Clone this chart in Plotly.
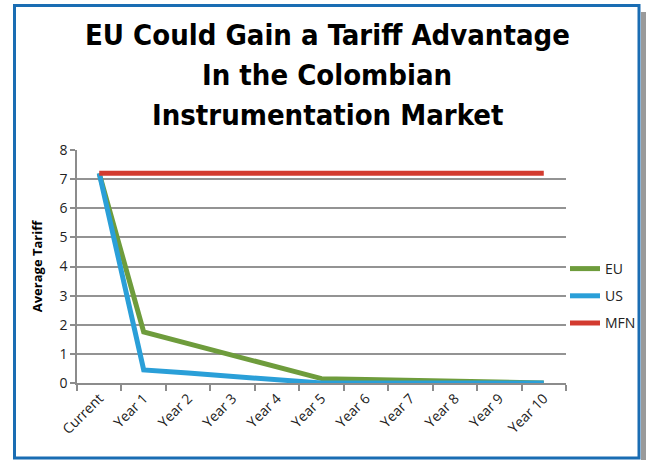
import plotly.graph_objects as go

categories = ["Current", "Year 1", "Year 2", "Year 3", "Year 4", "Year 5",
              "Year 6", "Year 7", "Year 8", "Year 9", "Year 10"]
eu = [7.2, 1.75, 1.35, 0.95, 0.55, 0.15, 0.12, 0.09, 0.06, 0.03, 0.0]
us = [7.2, 0.45, 0.34, 0.23, 0.11, 0.0, 0.0, 0.0, 0.0, 0.0, 0.0]
mfn = [7.2] * 11
y_ticks = [0, 1, 2, 3, 4, 5, 6, 7, 8]
title_lines = ["EU Could Gain a Tariff Advantage", "In the Colombian", "Instrumentation Market"]

W, H = 646, 460
L, R, T, B = 77, 566, 150, 383


def px(x):
    return (x - L) / (R - L)


def py(y):
    return (B - y) / (B - T)


fig = go.Figure()
series = [("EU", eu, "#6e9c3c"), ("US", us, "#2a9fd8"), ("MFN", mfn, "#d33b2f")]
for name, vals, col in series:
    fig.add_trace(go.Scatter(x=categories, y=vals, name=name, mode="lines",
                             line=dict(color=col, width=5), legendgroup=name))

title_font = dict(family="DejaVu Sans Condensed, Liberation Sans Narrow, Open Sans", size=29,
                  color="black", weight="bold")

fig.update_layout(
    width=W, height=H,
    margin=dict(l=L, r=W - R, t=T, b=H - B, autoexpand=False),
    paper_bgcolor="white", plot_bgcolor="white",
    font=dict(family="Open Sans, Noto Sans, sans-serif", color="#333"),
    xaxis=dict(type="category", tickangle=-45, showgrid=False, showline=True,
               linecolor="#8c8c8c", linewidth=1.5, ticks="outside", tickson="boundaries",
               ticklen=6, tickcolor="#8c8c8c", tickwidth=1.5, automargin=False,
               tickfont=dict(size=14, color="#222"), range=[-0.5, 10.5]),
    yaxis=dict(range=[0, 8], tickvals=y_ticks, showgrid=True, gridcolor="#939393",
               gridwidth=1.5, showline=True, linecolor="#8c8c8c", linewidth=1.5,
               ticks="outside", ticklen=5, tickcolor="#8c8c8c", tickwidth=1.5,
               tickfont=dict(size=14, color="#222"), zeroline=False, automargin=False,
               title=dict(text="Average Tariff", standoff=14,
                          font=dict(size=13, color="black", weight="bold"))),
    legend=dict(x=px(565), y=py(253), xanchor="left", yanchor="top",
                font=dict(size=14, color="#222"), tracegroupgap=6,
                bgcolor="rgba(0,0,0,0)"),
    showlegend=True,
)

for line, yc in zip(title_lines, [35, 75, 115]):
    fig.add_annotation(text=line, xref="paper", yref="paper", x=px(327), y=py(yc),
                       xanchor="center", yanchor="middle", showarrow=False, font=title_font)

# frame with shadow
fig.add_shape(type="rect", xref="paper", yref="paper",
              x0=px(641), x1=px(646), y0=py(12), y1=py(460),
              line=dict(width=0), fillcolor="#9a9a9a", layer="below")
fig.add_shape(type="rect", xref="paper", yref="paper",
              x0=px(14.5), x1=px(639), y0=py(5.5), y1=py(458),
              line=dict(color="#1a6db3", width=3), fillcolor="rgba(0,0,0,0)")

fig.write_html("out.html", config={"displayModeBar": False},
               post_script="document.body.style.margin='0';document.body.style.overflow='hidden';")
